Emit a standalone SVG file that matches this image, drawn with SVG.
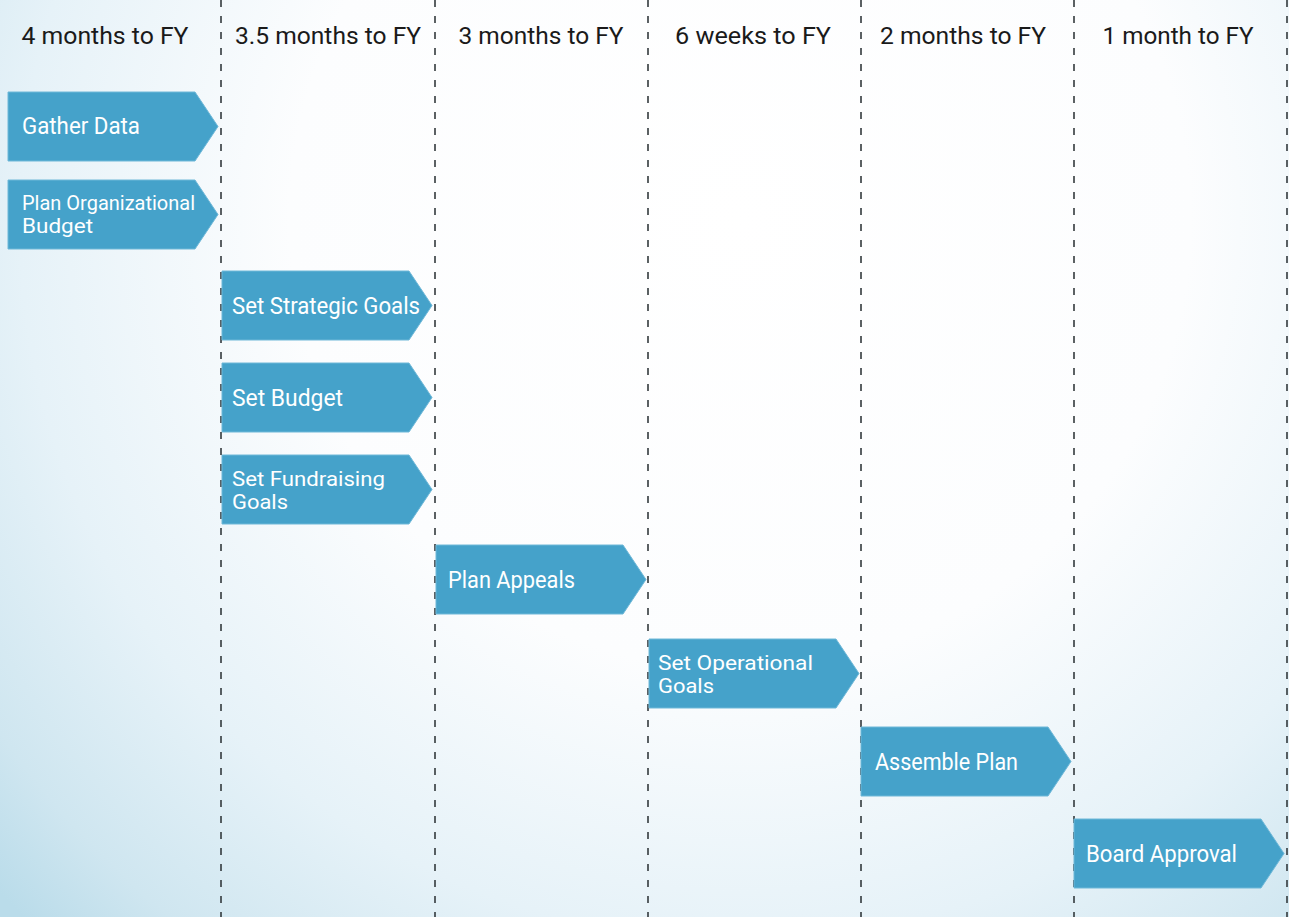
<svg xmlns="http://www.w3.org/2000/svg" width="1289" height="917" viewBox="0 0 1289 917">
<defs>
<radialGradient id="bg" cx="740" cy="220" r="1000" gradientUnits="userSpaceOnUse">
<stop offset="0" stop-color="#ffffff"/>
<stop offset="0.45" stop-color="#fcfdfe"/>
<stop offset="0.72" stop-color="#e6f2f8"/>
<stop offset="0.9" stop-color="#cfe6f0"/>
<stop offset="1" stop-color="#badcea"/>
</radialGradient>
<style>
.hdr{font-family:Roboto,"DejaVu Sans",sans-serif;font-size:24px;fill:#1a1a1a;text-anchor:middle}
.lbl{font-family:Roboto,"DejaVu Sans",sans-serif;font-size:23px;fill:#ffffff}
.two{font-size:20px}
.box{fill:#45a2ca;stroke:#6fb8d8;stroke-width:1}
.sep{stroke:#333a3d;stroke-width:1.6;stroke-dasharray:7 9;fill:none}
</style>
</defs>
<rect width="1289" height="917" fill="url(#bg)"/>
<g id="separators">
<line class="sep" x1="221" y1="0" x2="221" y2="917"/>
<line class="sep" x1="435" y1="0" x2="435" y2="917"/>
<line class="sep" x1="648" y1="0" x2="648" y2="917"/>
<line class="sep" x1="861" y1="0" x2="861" y2="917"/>
<line class="sep" x1="1074" y1="0" x2="1074" y2="917"/>
<line class="sep" x1="1287" y1="0" x2="1287" y2="917"/>
</g>
<g id="headers">
<text class="hdr" x="105" y="44" textLength="167" lengthAdjust="spacingAndGlyphs">4 months to FY</text>
<text class="hdr" x="328" y="44" textLength="186" lengthAdjust="spacingAndGlyphs">3.5 months to FY</text>
<text class="hdr" x="541" y="44" textLength="165" lengthAdjust="spacingAndGlyphs">3 months to FY</text>
<text class="hdr" x="753" y="44" textLength="156" lengthAdjust="spacingAndGlyphs">6 weeks to FY</text>
<text class="hdr" x="963" y="44" textLength="166" lengthAdjust="spacingAndGlyphs">2 months to FY</text>
<text class="hdr" x="1178" y="44" textLength="151" lengthAdjust="spacingAndGlyphs">1 month to FY</text>
</g>
<g id="gather-data">
<polygon class="box" points="8,92 195,92 218,126.5 195,161 8,161"/>
<text class="lbl" x="22" y="134" textLength="118" lengthAdjust="spacingAndGlyphs">Gather Data</text>
</g>
<g id="plan-organizational-budget">
<polygon class="box" points="8,180 195,180 218,214.5 195,249 8,249"/>
<text class="lbl two" x="22" y="210" textLength="173" lengthAdjust="spacingAndGlyphs">Plan Organizational</text>
<text class="lbl two" x="22" y="233" textLength="71" lengthAdjust="spacingAndGlyphs">Budget</text>
</g>
<g id="set-strategic-goals">
<polygon class="box" points="222,271 409,271 432,305.5 409,340 222,340"/>
<text class="lbl" x="232" y="314" textLength="188" lengthAdjust="spacingAndGlyphs">Set Strategic Goals</text>
</g>
<g id="set-budget">
<polygon class="box" points="222,363 409,363 432,397.5 409,432 222,432"/>
<text class="lbl" x="232" y="406" textLength="111" lengthAdjust="spacingAndGlyphs">Set Budget</text>
</g>
<g id="set-fundraising-goals">
<polygon class="box" points="222,455 409,455 432,489.5 409,524 222,524"/>
<text class="lbl two" x="232" y="486" textLength="153" lengthAdjust="spacingAndGlyphs">Set Fundraising</text>
<text class="lbl two" x="232" y="509" textLength="56" lengthAdjust="spacingAndGlyphs">Goals</text>
</g>
<g id="plan-appeals">
<polygon class="box" points="436,545 623,545 646,579.5 623,614 436,614"/>
<text class="lbl" x="448" y="588" textLength="127" lengthAdjust="spacingAndGlyphs">Plan Appeals</text>
</g>
<g id="set-operational-goals">
<polygon class="box" points="649,639 836,639 859,673.5 836,708 649,708"/>
<text class="lbl two" x="658" y="670" textLength="155" lengthAdjust="spacingAndGlyphs">Set Operational</text>
<text class="lbl two" x="658" y="693" textLength="56" lengthAdjust="spacingAndGlyphs">Goals</text>
</g>
<g id="assemble-plan">
<polygon class="box" points="861,727 1048,727 1071,761.5 1048,796 861,796"/>
<text class="lbl" x="875" y="770" textLength="143" lengthAdjust="spacingAndGlyphs">Assemble Plan</text>
</g>
<g id="board-approval">
<polygon class="box" points="1074,819 1261,819 1284,853.5 1261,888 1074,888"/>
<text class="lbl" x="1086" y="862" textLength="151" lengthAdjust="spacingAndGlyphs">Board Approval</text>
</g>
</svg>
